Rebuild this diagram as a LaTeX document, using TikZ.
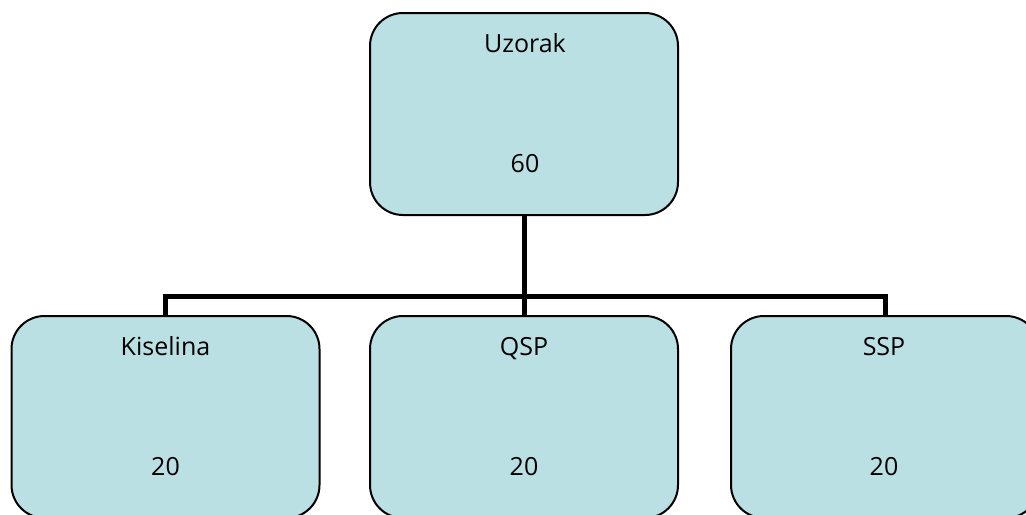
\documentclass[tikz,border=0pt]{standalone}
\usepackage{fontspec}
\setmainfont{Open Sans}
\definecolor{boxfill}{RGB}{186,224,227}
\tikzset{
  orgbox/.style={draw=black, line width=1pt, fill=boxfill, rounded corners=16.5pt,
    minimum width=154pt, minimum height=101pt, inner sep=0pt},
  boxtext/.style={anchor=base, inner sep=0pt, font=\fontsize{12.5}{15}\selectfont},
  link/.style={draw=black, line width=2.5pt}
}
\begin{document}
\begin{tikzpicture}[x=0.5pt,y=-0.5pt]
\useasboundingbox (0,0) rectangle (1026,514);
\clip (0,0) rectangle (1026,514);
\node[orgbox] (top) at (524,114) {};
\node[orgbox] (kis) at (165.5,417) {};
\node[orgbox] (qsp) at (524,417) {};
\node[orgbox] (ssp) at (885,417) {};
\coordinate (bar) at (524,296);
\draw[link] (top.south) -- (bar);
\draw[link] (bar) -| (kis.north);
\draw[link] (bar) -- (qsp.north);
\draw[link] (bar) -| (ssp.north);
\node[boxtext] (t1) at (525,52) {Uzorak};
\node[boxtext] (t2) at (525,172) {60};
\node[boxtext] (k1) at (165.5,355) {Kiselina};
\node[boxtext] (k2) at (165.5,475) {20};
\node[boxtext] (q1) at (524,355) {QSP};
\node[boxtext] (q2) at (524,475) {20};
\node[boxtext] (s1) at (884,355) {SSP};
\node[boxtext] (s2) at (884,475) {20};
\end{tikzpicture}
\end{document}
